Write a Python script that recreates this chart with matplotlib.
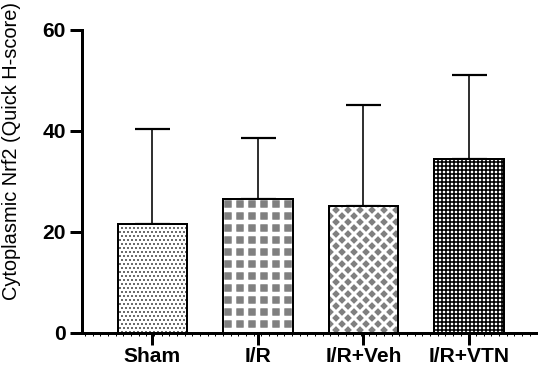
import numpy as np
import matplotlib
matplotlib.use("Agg")
import matplotlib.pyplot as plt

# values
groups = ["Sham", "I/R", "I/R+Veh", "I/R+VTN"]
means = [21.5, 26.5, 25.0, 34.4]
sd_up = [18.8, 12.1, 20.1, 16.6]

# fill styles per bar: face, hatch, hatch colour, hatch width
face = ["white", "#808080", "#808080", "white"]
hatches = ["...", "+", "xx", "+++"]
hcolor = ["black", "white", "white", "black"]
hwidth = [0.8, 4.5, 3.0, 1.6]

plt.rcParams["font.family"] = ["Liberation Sans", "DejaVu Sans"]

DPI = 72
fig = plt.figure(figsize=(538 / DPI, 376 / DPI), dpi=DPI)
ax = fig.add_axes([82 / 538, 1 - 332.5 / 376, 455 / 538, 303 / 376])

x = np.arange(len(groups))
w = 0.66
for i in range(len(groups)):
    with plt.rc_context({"hatch.linewidth": hwidth[i]}):
        b = ax.bar(x[i], means[i], w, color=face[i], hatch=hatches[i],
                   edgecolor=hcolor[i], linewidth=0, zorder=2)
    for p in b:
        if hasattr(p, "set_hatch_linewidth"):
            p.set_hatch_linewidth(hwidth[i])
    ax.bar(x[i], means[i], w, fill=False, edgecolor="black", linewidth=2, zorder=3)

ax.errorbar(x, means, yerr=[np.zeros(len(x)), sd_up], fmt="none", ecolor="black",
            elinewidth=1.6, capsize=17.5, capthick=2.2, zorder=1)

ax.set_ylim(0, 60)
ax.set_xlim(-0.668, 3.645)
ax.set_yticks([0, 20, 40, 60])
ax.set_xticks(x)
ax.set_xticklabels(groups)

for s in ["top", "right"]:
    ax.spines[s].set_visible(False)
ax.spines["left"].set_linewidth(3)
ax.spines["bottom"].set_linewidth(3)
ax.spines["bottom"].set_zorder(4)

ax.tick_params(axis="y", length=12, width=3, labelsize=21, pad=4)
ax.tick_params(axis="x", length=12, width=3, labelsize=21, pad=2)
for lab in ax.get_xticklabels() + ax.get_yticklabels():
    lab.set_fontweight("bold")

# little marks under the x axis line
ax.set_xticks(np.arange(-0.64, 3.645, 0.0727), minor=True)
ax.tick_params(axis="x", which="minor", length=2.5, width=1)

ax.set_ylabel("Cytoplasmic Nrf2 (Quick H-score)", fontsize=20)
ax.yaxis.set_label_coords(-61 / 455, 0.6)

fig.savefig("out.png", dpi=DPI)
